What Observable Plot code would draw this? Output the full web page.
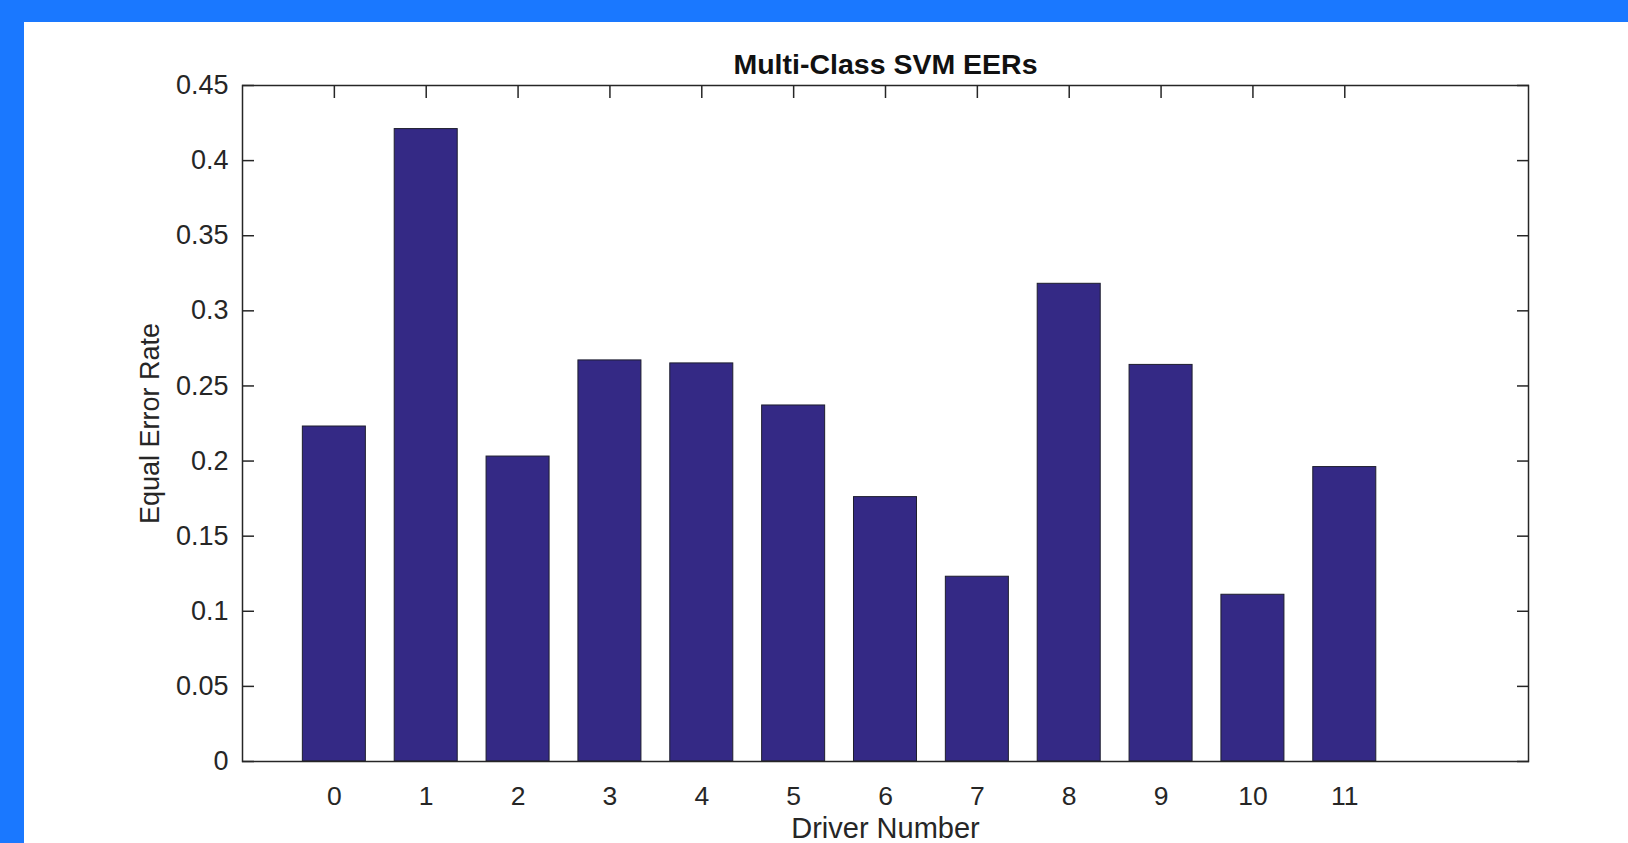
<!DOCTYPE html>
<html>
<head>
<meta charset="utf-8">
<script src="https://cdn.jsdelivr.net/npm/d3@7"></script>
<script src="https://cdn.jsdelivr.net/npm/@observablehq/plot@0.6"></script>
<style>
  html, body { margin: 0; padding: 0; background: #1a78ff; overflow: hidden; }
  #chart { position: absolute; left: 24px; top: 22px; width: 1604px; height: 821px; background: #ffffff; }
</style>
</head>
<body>
<div id="chart"></div>
<script>
// Equal error rate of the multi-class SVM for each driver
const drivers = [0, 1, 2, 3, 4, 5, 6, 7, 8, 9, 10, 11, 12];
const eer = [0.223, 0.421, 0.203, 0.267, 0.265, 0.237, 0.176, 0.123, 0.318, 0.264, 0.111, 0.196, 0];

// Axis ticks and their labels
const xTicks = [0, 1, 2, 3, 4, 5, 6, 7, 8, 9, 10, 11];
const xTickLabels = ["0", "1", "2", "3", "4", "5", "6", "7", "8", "9", "10", "11"];
const yTicks = [0, 0.05, 0.1, 0.15, 0.2, 0.25, 0.3, 0.35, 0.4, 0.45];
const yTickLabels = ["0", "0.05", "0.1", "0.15", "0.2", "0.25", "0.3", "0.35", "0.4", "0.45"];

const title = "Multi-Class SVM EERs";
const xLabel = "Driver Number";
const yLabel = "Equal Error Rate";

const rows = drivers.map((d, i) => ({driver: d, eer: eer[i]}));

const barWidth = 0.686;
const ink = "#262626";
const font = "'Liberation Sans', Arial, Helvetica, sans-serif";

const chart = Plot.plot({
  width: 1604,
  height: 821,
  marginLeft: 218,
  marginRight: 100,
  marginTop: 63,
  marginBottom: 82,
  style: {fontFamily: font, background: "#ffffff", color: ink},
  x: {type: "linear", domain: [-1, 13]},
  y: {domain: [0, 0.45]},
  marks: [
    // bars
    Plot.rectY(rows, {
      x1: d => d.driver - barWidth / 2,
      x2: d => d.driver + barWidth / 2,
      y: "eer",
      fill: "#342985",
      stroke: "#1e1e2e",
      strokeWidth: 1
    }),
    // box around the axes
    Plot.frame({stroke: ink, strokeWidth: 1.5}),
    // inward tick marks on the left, right and top edges
    Plot.axisY(yTicks, {anchor: "left", tickSize: 12, dx: 12, fill: "none", stroke: ink, strokeWidth: 1.5}),
    Plot.axisY(yTicks, {anchor: "right", tickSize: 12, dx: -12, fill: "none", stroke: ink, strokeWidth: 1.5}),
    Plot.axisX(xTicks, {anchor: "top", tickSize: 12, dy: 12, fill: "none", stroke: ink, strokeWidth: 1.5}),
    // tick labels
    Plot.axisY(yTicks, {
      anchor: "left", tickSize: 0, tickPadding: 14, label: null,
      fontSize: 27, fill: ink,
      tickFormat: d => yTickLabels[yTicks.indexOf(d)]
    }),
    Plot.axisX(xTicks, {
      anchor: "bottom", tickSize: 0, tickPadding: 25, label: null,
      fontSize: 26.5, fill: ink,
      tickFormat: d => xTickLabels[xTicks.indexOf(d)]
    }),
    // title and axis titles
    Plot.text([title], {
      frameAnchor: "top", lineAnchor: "bottom", dy: -12,
      fontSize: 28.5, fontWeight: "bold", fill: "#111111"
    }),
    Plot.text([xLabel], {
      frameAnchor: "bottom", lineAnchor: "bottom", dy: 76,
      fontSize: 29, fill: ink
    }),
    Plot.text([yLabel], {
      frameAnchor: "left", textAnchor: "middle", lineAnchor: "bottom", rotate: -90, dx: -84,
      fontSize: 27, fill: ink
    })
  ]
});

document.getElementById("chart").appendChild(chart);
</script>
</body>
</html>
